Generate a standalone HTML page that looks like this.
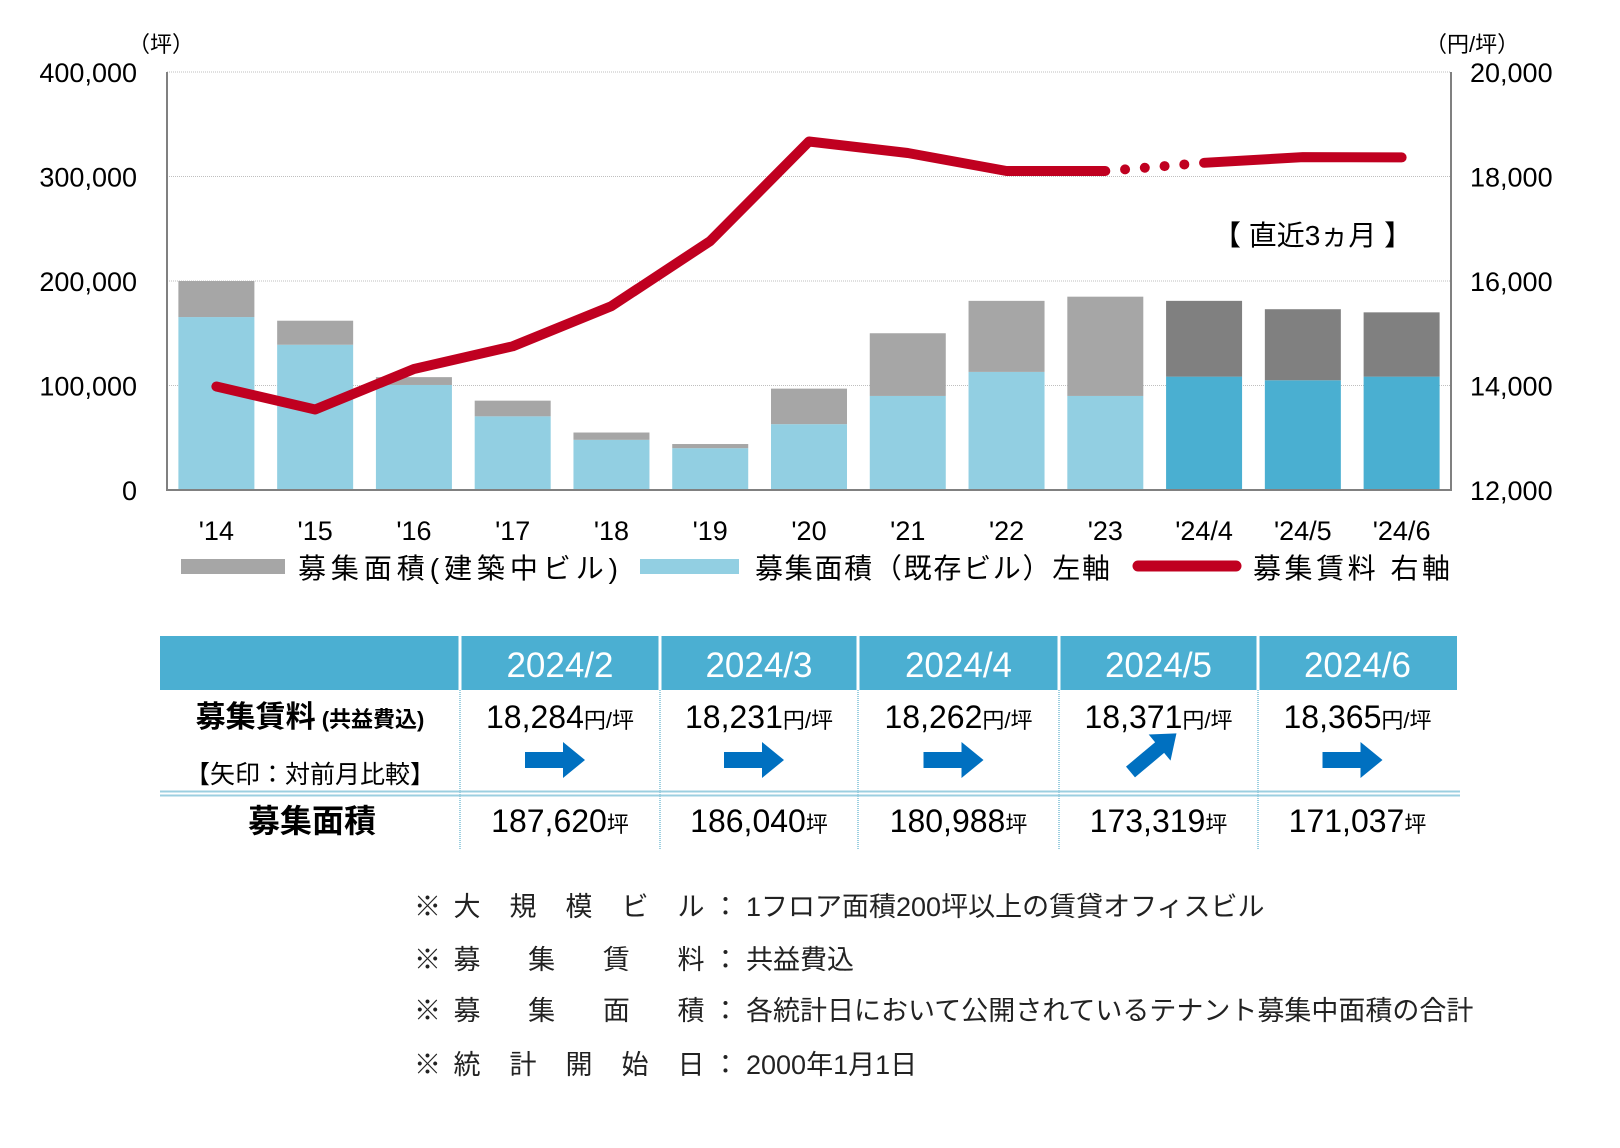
<!DOCTYPE html>
<html><head><meta charset="utf-8">
<style>
html,body{margin:0;padding:0;background:#fff;}
svg{display:block;}
text{font-family:"Liberation Sans","Noto Sans CJK JP",sans-serif;}
</style></head>
<body>
<svg id="svg" width="1620" height="1148" viewBox="0 0 1620 1148" xmlns="http://www.w3.org/2000/svg">
  <g id="grid"></g>
  <g id="bars"></g>
  <g id="axes"></g>
  <g id="line"></g>
  <g id="labels"></g>
  <text x="128" y="52" font-size="22">（坪）</text>
  <text x="1425" y="52" font-size="22">（円/坪）</text>
  <text x="1213" y="245" font-size="28">【 直近3ヵ月 】</text>
  <g>
    <rect x="181" y="559" width="104" height="15" fill="#A6A6A6"/>
    <text x="298" y="578" font-size="28" textLength="320">募集面積(建築中ビル)</text>
    <rect x="640" y="559" width="99" height="15" fill="#92CFE2"/>
    <text x="755" y="578" font-size="28" textLength="355">募集面積（既存ビル）左軸</text>
    <line x1="1138" y1="566" x2="1236" y2="566" stroke="#C00020" stroke-width="11" stroke-linecap="round"/>
    <text x="1253" y="578" font-size="28" textLength="197">募集賃料 右軸</text>
  </g>
  <g id="table"></g>
  <g id="notes"></g>
</svg>
<script>
const categories = ["'14","'15","'16","'17","'18","'19","'20","'21","'22","'23","'24/4","'24/5","'24/6"];
const existingArea = [165500,139000,100500,70500,48000,40000,63000,90000,113000,90000,108500,105000,108500];
const constructionArea = [34500,23000,7500,15000,7000,4000,34000,60000,68000,95000,72500,68000,61500];
const rent = [13981,13540,14315,14750,15520,16765,18670,18450,18105,18105,18262,18371,18365];
const leftTicks = [0,100000,200000,300000,400000];
const rightTicks = [12000,14000,16000,18000,20000];

const NS="http://www.w3.org/2000/svg";
const X0=167,X1=1451,Y0=490,Y1=72;
const band=(X1-X0)/categories.length;
const xc=i=>X0+band*(i+0.5);
const yL=v=>Y0-(v/400000)*(Y0-Y1);
const yR=v=>Y0-((v-12000)/8000)*(Y0-Y1);
function mk(tag,attrs,parent){const e=document.createElementNS(NS,tag);for(const k in attrs)e.setAttribute(k,attrs[k]);parent.appendChild(e);return e;}
const G=id=>document.getElementById(id);
const fmt=n=>n.toLocaleString('en-US');

leftTicks.forEach((t,i)=>{
  if(t>0){const l=mk('line',{x1:X0,x2:X1,y1:yL(t),y2:yL(t),stroke:'#BFBFBF','stroke-width':1,'stroke-dasharray':'1,1'},G('grid'));
  
  }
  const tx=mk('text',{x:137,y:yL(t)+10,'font-size':27,'text-anchor':'end'},G('labels'));
  tx.textContent=fmt(t);
  
  
});
rightTicks.forEach(t=>{
  const tx=mk('text',{x:1470,y:yR(t)+10,'font-size':27},G('labels'));
  tx.textContent=fmt(t);
  
  
});
categories.forEach((c,i)=>{
  const recent=i>=10;
  const w=76,x=xc(i)-w/2;
  const b1=mk('rect',{x:x,y:yL(existingArea[i]),width:w,height:Y0-yL(existingArea[i]),fill:recent?'#4AAFD1':'#92CFE2'},G('bars'));
  
  
  const tot=existingArea[i]+constructionArea[i];
  const b2=mk('rect',{x:x,y:yL(tot),width:w,height:yL(existingArea[i])-yL(tot),fill:recent?'#808080':'#A6A6A6'},G('bars'));
  
  
  const tx=mk('text',{x:xc(i),y:540,'font-size':27,'text-anchor':'middle'},G('labels'));
  tx.textContent=c;
  
  
});
const ax=mk('path',{d:`M${X0},${Y1}V${Y0}H${X1}V${Y1}`,fill:'none',stroke:'#808080','stroke-width':2},G('axes'));



const p1=rent.slice(0,10).map((v,i)=>`${xc(i)},${yR(v)}`).join(' ');
const l1=mk('polyline',{points:p1,fill:'none',stroke:'#C00020','stroke-width':10,'stroke-linecap':'round','stroke-linejoin':'round'},G('line'));


const p2=rent.slice(10).map((v,i)=>`${xc(i+10)},${yR(v)}`).join(' ');
const l2=mk('polyline',{points:p2,fill:'none',stroke:'#C00020','stroke-width':10,'stroke-linecap':'round','stroke-linejoin':'round'},G('line'));


for(let k=1;k<=4;k++){
  const f=k/5;
  const cx=xc(9)+(xc(10)-xc(9))*f, cy=yR(rent[9])+(yR(rent[10])-yR(rent[9]))*f;
  const d=mk('circle',{cx:cx,cy:cy,r:5,fill:'#C00020'},G('line'));
  
  
}

// table
const months=["2024/2","2024/3","2024/4","2024/5","2024/6"];
const rents=[18284,18231,18262,18371,18365];
const areas=[187620,186040,180988,173319,171037];
const arrows=["flat","flat","flat","up","flat"];
const T=G('table');
const colX=[460,660,858,1059,1258,1457];
const h=mk('rect',{x:160,y:636,width:1297,height:54,fill:'#4BAFD2'},T);


for(let i=1;i<5;i++){
  const v=mk('line',{x1:colX[i],x2:colX[i],y1:636,y2:690,stroke:'#fff','stroke-width':3},T);
  
  
}
for(let i=0;i<5;i++){
  const v=mk('line',{x1:colX[i],x2:colX[i],y1:690,y2:850,stroke:'#9CCFE0','stroke-width':2,'stroke-dasharray':'1,1'},T);
  
  
}
const v0=mk('line',{x1:460,x2:460,y1:636,y2:690,stroke:'#fff','stroke-width':3},T);


[791.5,795.5].forEach(y=>{
  const s=mk('line',{x1:160,x2:1460,y1:y,y2:y,stroke:'#9CCFE0','stroke-width':2},T);
  
  
});
function txt(parent,x,y,size,str,name,extra){const t=mk('text',Object.assign({x:x,y:y,'font-size':size},extra||{}),parent);t.textContent=str;return t;}
txt(T,310,727,30,'','row-label-rent',{'text-anchor':'middle','font-weight':'bold'}).innerHTML='募集賃料<tspan font-size="22"> (共益費込)</tspan>';
txt(T,310,783,25,'【矢印：対前月比較】','row-label-arrow-note',{'text-anchor':'middle'});
txt(T,312,832,32,'募集面積','row-label-area',{'text-anchor':'middle','font-weight':'bold'});
months.forEach((m,i)=>{
  const cx=(colX[i]+colX[i+1])/2;
  txt(T,cx,677,35,m,'header-month',{'text-anchor':'middle',fill:'#fff'});
  txt(T,cx,728,32,'','rent-value',{'text-anchor':'middle'}).innerHTML=fmt(rents[i])+'<tspan font-size="22">円/坪</tspan>';
  txt(T,cx,832,32,'','area-value',{'text-anchor':'middle'}).innerHTML=fmt(areas[i])+'<tspan font-size="22">坪</tspan>';
  let a;
  if(arrows[i]==='flat'){
    a=mk('path',{d:`M${cx-35},${752}h38v-10l22,18l-22,18v-10h-38z`,fill:'#0070C0'},T);
  } else {
    a=mk('path',{d:`M0,-7h38v-10l22,17l-22,17v-10h-38z`,fill:'#0070C0',transform:`translate(${cx-28},${772}) rotate(-40)`},T);
  }
  
  
});

// notes
const N=G('notes');
const noteLabels=[["大","規","模","ビ","ル"],["募","集","賃","料"],["募","集","面","積"],["統","計","開","始","日"]];
const noteValues=["1フロア面積200坪以上の賃貸オフィスビル","共益費込","各統計日において公開されているテナント募集中面積の合計","2000年1月1日"];
const ny=[916,969,1020,1074];
noteLabels.forEach((lab,r)=>{
  txt(N,414,ny[r],27,'※','note-mark',{fill:'#222'});
  const n=lab.length, span=700-476;
  lab.forEach((ch,k)=>{
    const x=467+(n===1?0:k*(span/(n-1)));
    txt(N,x,ny[r],27,ch,'note-label-char',{'text-anchor':'middle',fill:'#222'});
  });
  txt(N,712,ny[r],27,'：','note-colon',{fill:'#222'});
  txt(N,746,ny[r],27,noteValues[r],'note-value',{fill:'#222'});
});
</script>
</body></html>
